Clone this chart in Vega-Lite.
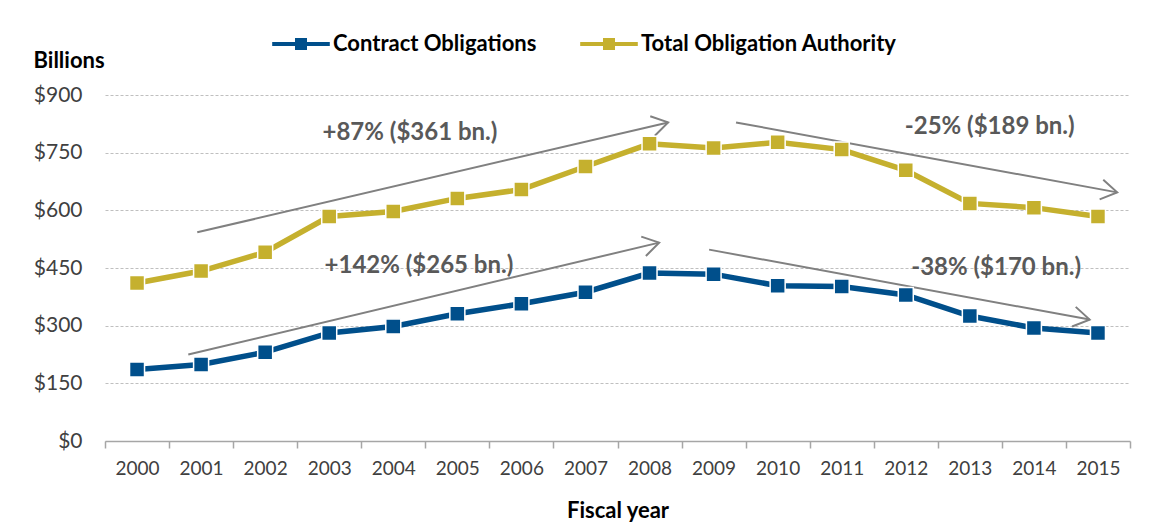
{
  "$schema": "https://vega.github.io/schema/vega-lite/v6.json",
  "autosize": "none",
  "width": 1025,
  "height": 346,
  "padding": {"left": 105, "top": 95, "right": 24, "bottom": 88},
  "background": "white",
  "config": {"font": "Lato", "view": {"stroke": null}},
  "datasets": {
    "series": [
      {"year": 2000, "series": "Contract Obligations", "value": 186},
      {"year": 2001, "series": "Contract Obligations", "value": 199},
      {"year": 2002, "series": "Contract Obligations", "value": 231},
      {"year": 2003, "series": "Contract Obligations", "value": 281},
      {"year": 2004, "series": "Contract Obligations", "value": 298},
      {"year": 2005, "series": "Contract Obligations", "value": 331},
      {"year": 2006, "series": "Contract Obligations", "value": 357},
      {"year": 2007, "series": "Contract Obligations", "value": 387},
      {"year": 2008, "series": "Contract Obligations", "value": 437},
      {"year": 2009, "series": "Contract Obligations", "value": 434},
      {"year": 2010, "series": "Contract Obligations", "value": 404},
      {"year": 2011, "series": "Contract Obligations", "value": 402},
      {"year": 2012, "series": "Contract Obligations", "value": 380},
      {"year": 2013, "series": "Contract Obligations", "value": 325},
      {"year": 2014, "series": "Contract Obligations", "value": 294},
      {"year": 2015, "series": "Contract Obligations", "value": 281},
      {"year": 2000, "series": "Total Obligation Authority", "value": 411},
      {"year": 2001, "series": "Total Obligation Authority", "value": 442},
      {"year": 2002, "series": "Total Obligation Authority", "value": 491},
      {"year": 2003, "series": "Total Obligation Authority", "value": 584},
      {"year": 2004, "series": "Total Obligation Authority", "value": 597},
      {"year": 2005, "series": "Total Obligation Authority", "value": 631},
      {"year": 2006, "series": "Total Obligation Authority", "value": 654},
      {"year": 2007, "series": "Total Obligation Authority", "value": 714},
      {"year": 2008, "series": "Total Obligation Authority", "value": 773},
      {"year": 2009, "series": "Total Obligation Authority", "value": 762},
      {"year": 2010, "series": "Total Obligation Authority", "value": 777},
      {"year": 2011, "series": "Total Obligation Authority", "value": 758},
      {"year": 2012, "series": "Total Obligation Authority", "value": 704},
      {"year": 2013, "series": "Total Obligation Authority", "value": 618},
      {"year": 2014, "series": "Total Obligation Authority", "value": 607},
      {"year": 2015, "series": "Total Obligation Authority", "value": 584}
    ],
    "arrows": [
      {"arrow": "ul", "x0": 2000.94, "y0": 542.8, "x1": 2008.29, "y1": 828.7},
      {"arrow": "ur", "x0": 2009.35, "y0": 828.7, "x1": 2015.30, "y1": 646.7},
      {"arrow": "ll", "x0": 2000.80, "y0": 224.9, "x1": 2008.15, "y1": 516.0},
      {"arrow": "lr", "x0": 2008.93, "y0": 497.8, "x1": 2014.87, "y1": 315.8}
    ],
    "notes": [
      {"label": "+87% ($361 bn.)", "tx": 2004.26, "ty": 802},
      {"label": "-25% ($189 bn.)", "tx": 2013.31, "ty": 817},
      {"label": "+142% ($265 bn.)", "tx": 2004.40, "ty": 456},
      {"label": "-38% ($170 bn.)", "tx": 2013.41, "ty": 451}
    ]
  },
  "layer": [
    {
      "data": {"name": "series"},
      "mark": {"type": "line", "strokeWidth": 5.5},
      "encoding": {
        "x": {
          "field": "year", "type": "quantitative",
          "scale": {"domain": [1999.5, 2015.5], "nice": false, "zero": false},
          "axis": {
            "values": [1999.5, 2000.5, 2001.5, 2002.5, 2003.5, 2004.5, 2005.5, 2006.5, 2007.5, 2008.5, 2009.5, 2010.5, 2011.5, 2012.5, 2013.5, 2014.5, 2015.5],
            "labelExpr": "datum.value < 2015 ? format(datum.value + 0.5, 'd') : ''",
            "labelOffset": 32,
            "labelFlush": false,
            "labelOverlap": false,
            "labelBound": false,
            "grid": false,
            "domainColor": "#a6a6a6", "domainWidth": 1.5,
            "tickColor": "#a6a6a6", "tickWidth": 1.5, "tickSize": 7,
            "labelFontSize": 19, "labelColor": "#404040", "labelPadding": 11,
            "title": "Fiscal year", "titleFontSize": 22, "titleFontWeight": "bold",
            "titleColor": "#000000", "titlePadding": 22
          }
        },
        "y": {
          "field": "value", "type": "quantitative",
          "scale": {"domain": [0, 900], "nice": false},
          "axis": {
            "values": [0, 150, 300, 450, 600, 750, 900],
            "labelExpr": "'$' + datum.value",
            "domain": false, "ticks": false,
            "grid": true, "gridColor": "#bfbfbf", "gridDash": [3, 2], "gridWidth": 1,
            "labelFontSize": 21, "labelColor": "#404040", "labelPadding": 23,
            "title": "Billions", "titleAngle": 0, "titleAlign": "left", "titleBaseline": "middle",
            "titleX": -72, "titleY": -35, "titleFontSize": 22, "titleFontWeight": "bold",
            "titleColor": "#000000"
          }
        },
        "color": {
          "field": "series", "type": "nominal",
          "scale": {"domain": ["Contract Obligations", "Total Obligation Authority"], "range": ["#004F8B", "#C5B02E"]},
          "legend": {
            "orient": "none", "legendX": 184, "legendY": -63, "direction": "horizontal", "title": null,
            "symbolType": "M-2.4,-0.17L2.4,-0.17L2.4,0.17L-2.4,0.17ZM-0.5,-0.5L0.5,-0.5L0.5,0.5L-0.5,0.5Z",
            "symbolSize": 576, "symbolStrokeWidth": 0, "symbolOpacity": 1,
            "labelFontSize": 22, "labelFontWeight": "bold", "labelColor": "#000000",
            "labelOffset": 20, "columnPadding": 43, "labelLimit": 400
          }
        }
      }
    },
    {
      "data": {"name": "arrows"},
      "mark": {"type": "rule", "color": "#808080", "strokeWidth": 2},
      "encoding": {
        "x": {"field": "x0", "type": "quantitative"},
        "y": {"field": "y0", "type": "quantitative"},
        "x2": {"field": "x1"},
        "y2": {"field": "y1"}
      }
    },
    {
      "data": {"name": "arrows"},
      "mark": {"type": "point", "shape": "M-1.6,-1L0,0L-1.6,1", "filled": false, "stroke": "#808080", "strokeWidth": 2, "size": 400, "opacity": 1},
      "encoding": {
        "x": {"field": "x1", "type": "quantitative"},
        "y": {"field": "y1", "type": "quantitative"},
        "angle": {
          "condition": [
            {"test": "datum.arrow === 'ul'", "value": 346.86},
            {"test": "datum.arrow === 'll'", "value": 346.63}
          ],
          "value": 10.4
        }
      }
    },
    {
      "data": {"name": "notes"},
      "mark": {"type": "text", "fontSize": 24, "fontWeight": "bold", "color": "#595959", "align": "center", "baseline": "middle"},
      "encoding": {
        "x": {"field": "tx", "type": "quantitative"},
        "y": {"field": "ty", "type": "quantitative"},
        "text": {"field": "label", "type": "nominal"}
      }
    },
    {
      "data": {"name": "series"},
      "mark": {"type": "point", "shape": "square", "filled": true, "size": 225, "stroke": "white", "strokeWidth": 1.5, "opacity": 1},
      "encoding": {
        "x": {"field": "year", "type": "quantitative"},
        "y": {"field": "value", "type": "quantitative"},
        "color": {"field": "series", "type": "nominal"}
      }
    }
  ]
}
